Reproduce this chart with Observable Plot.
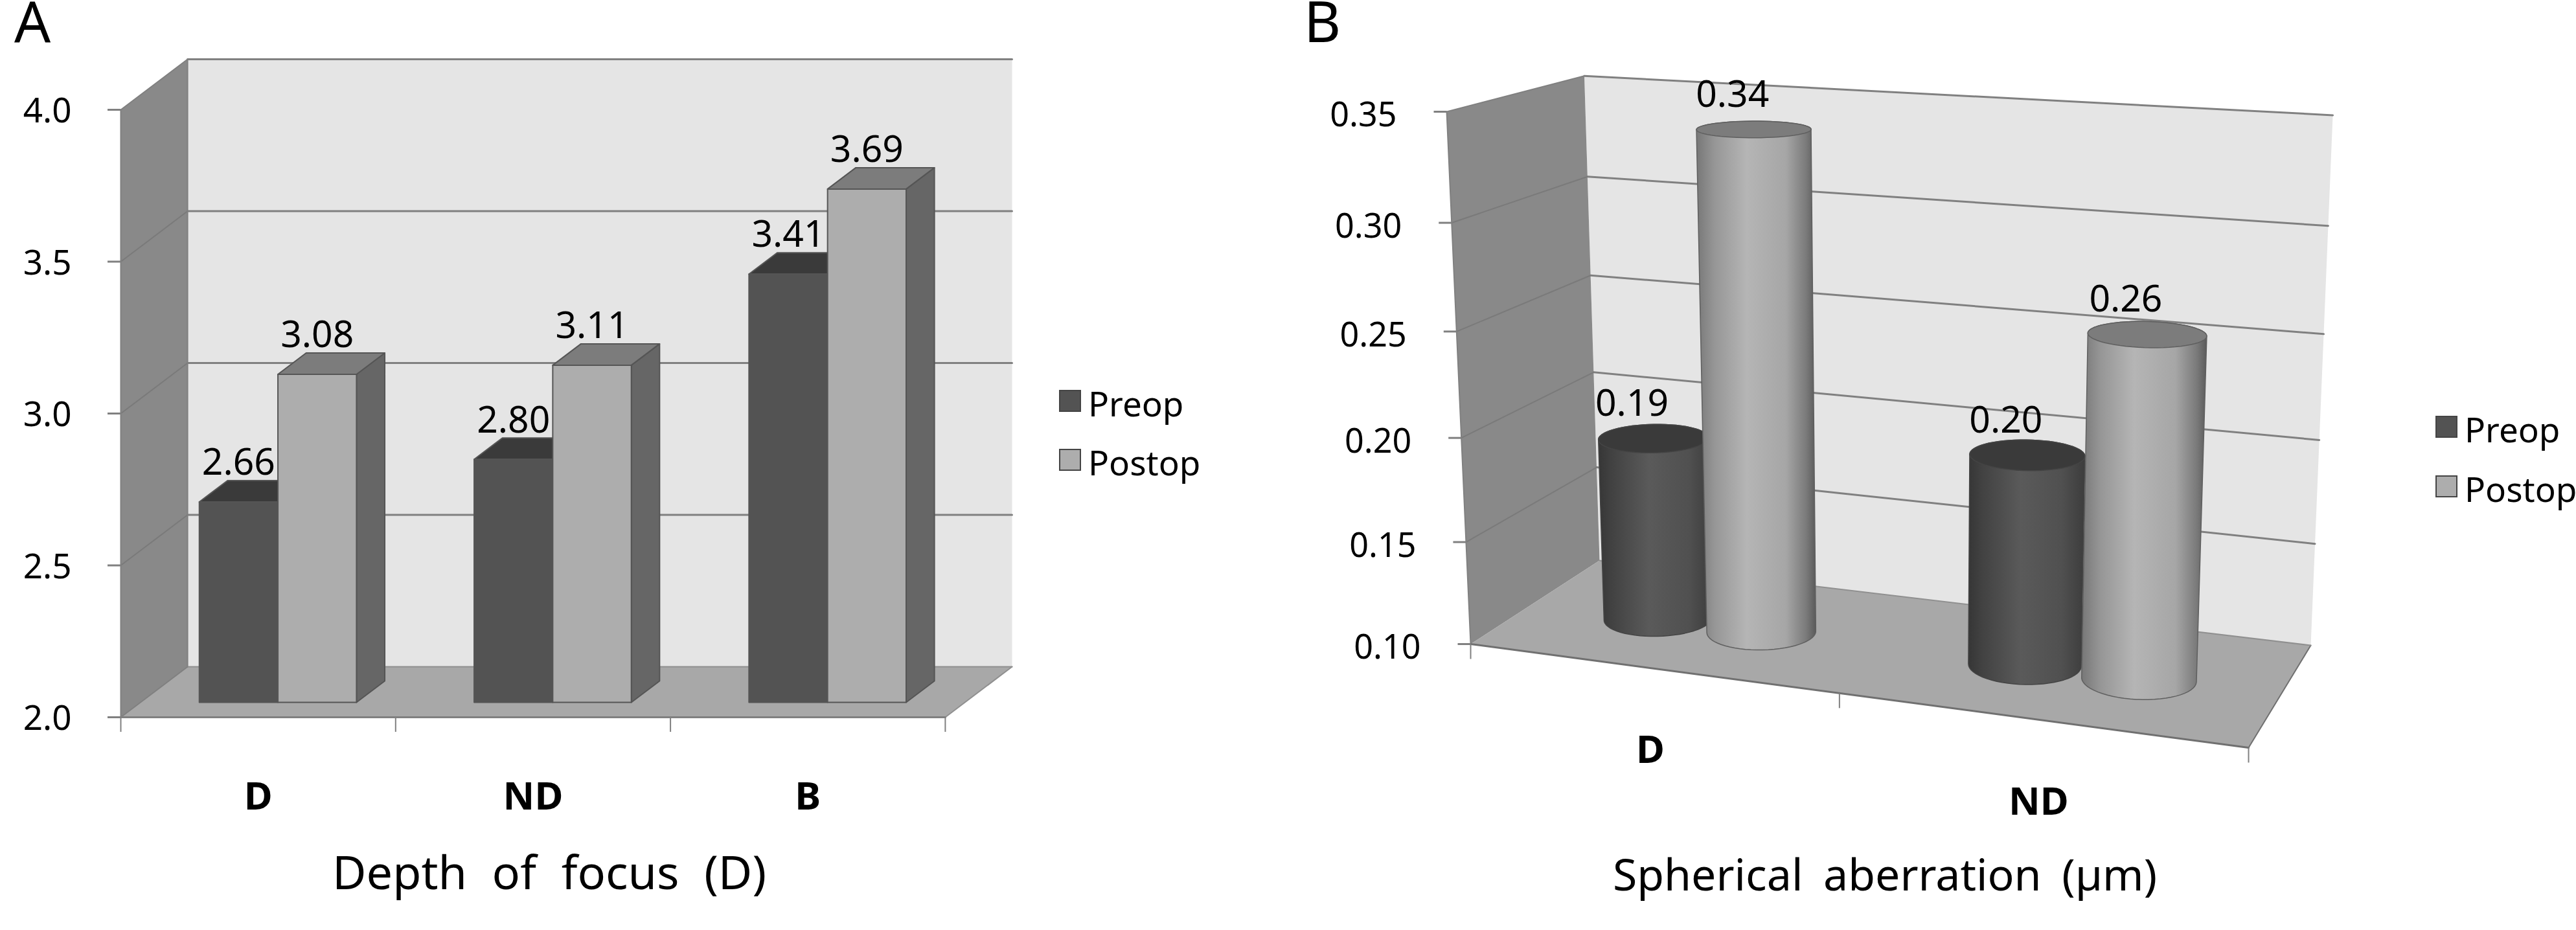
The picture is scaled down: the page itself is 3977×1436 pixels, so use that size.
<!DOCTYPE html>
<html>
<head>
<meta charset="utf-8">
<script src="https://cdn.jsdelivr.net/npm/d3@7"></script>
<script src="https://cdn.jsdelivr.net/npm/@observablehq/plot@0.6"></script>
<style>
  html,body{margin:0;padding:0;background:#fff;}
  #page{position:relative;width:3977px;height:1436px;overflow:hidden;font-family:"Noto Sans",sans-serif;color:#000;}
  #page svg{position:absolute;top:0;overflow:visible;background:transparent;}
  .t{position:absolute;line-height:1;white-space:pre;}
  .titleA{font-size:72px;word-spacing:20px;}
  .titleB{font-size:68px;word-spacing:14px;}
  .letter{font-size:88px;line-height:0.66;}
  .lg{font-size:53px;}
  .sw{position:absolute;width:34px;height:34px;box-sizing:border-box;border:2px solid #444;}
</style>
</head>
<body>
<div id="page"></div>
<script>
// ---------- data ----------
const seriesNames = ["Preop", "Postop"];
const categoriesA = ["D", "ND", "B"];
const preopA = [2.66, 2.80, 3.41];
const postopA = [3.08, 3.11, 3.69];
const ticksA = [2.0, 2.5, 3.0, 3.5, 4.0];
const categoriesB = ["D", "ND"];
const preopB = [0.19, 0.20];
const postopB = [0.34, 0.26];
const ticksB = [0.10, 0.15, 0.20, 0.25, 0.30, 0.35];
const titleA = "Depth of focus (D)";
const titleB = "Spherical aberration (µm)";

// ---------- palette ----------
const C = {wall:"#898989", back:"#e5e5e5", floor:"#a8a8a8", grid:"#808080",
  darkFront:"#535353", darkTop:"#3a3a3a", lightFront:"#adadad", lightTop:"#7c7c7c",
  lightSide:"#666666", edge:"#555555"};
const font = '"Noto Sans", sans-serif';
const page = document.getElementById("page");

function poly(pts, fill, stroke, strokeWidth) {
  return Plot.line([...pts, pts[0]], {x: d => d[0], y: d => d[1], fill, stroke: stroke || "none", strokeWidth: strokeWidth || 0});
}
function seg(a, b, stroke, strokeWidth) {
  return Plot.line([a, b], {x: d => d[0], y: d => d[1], stroke, strokeWidth});
}

// ---------- panel A: oblique 3D column chart ----------
const depthX = 0.243, depthY = 0.1663;
const obl = (u, z, v) => [u + depthX * z, v + depthY * z];
const nA = categoriesA.length, v0 = ticksA[0], v1 = ticksA[ticksA.length - 1];
const zF = 0.295, zB = 0.718, b0 = 0.214, bM = 0.5, b1 = 0.786;

function bar(c, u0, u1, v, front, top, side) {
  const m = [
    poly([obl(c+u0,zF,v), obl(c+u0,zB,v), obl(c+u1,zB,v), obl(c+u1,zF,v)], top, C.edge, 2),
    poly([obl(c+u0,zF,v0), obl(c+u0,zF,v), obl(c+u1,zF,v), obl(c+u1,zF,v0)], front, C.edge, 2)
  ];
  if (side) m.unshift(poly([obl(c+u1,zF,v0), obl(c+u1,zB,v0), obl(c+u1,zB,v), obl(c+u1,zF,v)], side, C.edge, 2));
  return m;
}
const labelsA = [];
categoriesA.forEach((_, i) => {
  labelsA.push({p: obl(i + (b0+bM)/2, zF, preopA[i]), t: preopA[i].toFixed(2)});
  labelsA.push({p: obl(i + (bM+b1)/2, zF, postopA[i]), t: postopA[i].toFixed(2)});
});

const plotA = Plot.plot({
  width: 1980, height: 1436,
  marginLeft: 186, marginTop: 91, marginBottom: 329, marginRight: 418,
  style: {fontFamily: font, background: "transparent", left: "0px"},
  x: {domain: [0, nA + depthX], axis: null},
  y: {domain: [v0, v1 + depthY], axis: null},
  marks: [
    poly([obl(0,1,v0), obl(0,1,v1), obl(nA,1,v1), obl(nA,1,v0)], C.back),
    poly([obl(0,0,v0), obl(0,1,v0), obl(0,1,v1), obl(0,0,v1)], C.wall),
    poly([obl(0,0,v0), obl(0,1,v0), obl(nA,1,v0), obl(nA,0,v0)], C.floor),
    ticksA.slice(1).map(v => seg(obl(0,1,v), obl(nA,1,v), C.grid, 3)),
    ticksA.slice(1, -1).map(v => seg(obl(0,0,v), obl(0,1,v), "#7a7a7a", 2)),
    seg(obl(0,0,v1), obl(0,1,v1), "#808080", 2),
    seg(obl(0,0,v0), obl(0,0,v1), "#808080", 2),
    seg(obl(0,1,v0), obl(0,1,v1), "#808080", 2),
    seg(obl(0,1,v0), obl(nA,1,v0), "#909090", 2),
    seg(obl(0,0,v0), obl(0,1,v0), "#808080", 2),
    seg(obl(nA,0,v0), obl(nA,1,v0), "#909090", 2),
    seg(obl(0,0,v0), obl(nA,0,v0), "#808080", 3),
    Plot.axisY({ticks: ticksA, tickFormat: () => "", tickSize: 20, stroke: "#808080", strokeWidth: 3, label: null}),
    Plot.axisY({ticks: ticksA, tickFormat: ".1f", tickSize: 0, tickPadding: 76, dy: 3, fontSize: 53, fill: "#000", label: null}),
    Plot.axisX({ticks: d3.range(nA + 1), tickSize: 23, tickFormat: () => "", stroke: "#808080", strokeWidth: 2, label: null}),
    Plot.axisX({ticks: categoriesA.map((_, i) => i + 0.5), tickSize: 0, tickPadding: 100, tickFormat: t => categoriesA[Math.floor(t)], fontSize: 60, fontWeight: "bold", fill: "#000", label: null}),
    categoriesA.map((_, i) => [
      bar(i, b0, bM, preopA[i], C.darkFront, C.darkTop, null),
      bar(i, bM, b1, postopA[i], C.lightFront, C.lightTop, C.lightSide)
    ]),
    Plot.text(labelsA, {x: d => d.p[0], y: d => d.p[1], text: "t", fontSize: 57, dy: -60, fill: "#000"})
  ]
});
plotA.style.left = "0px";
page.appendChild(plotA);

// ---------- panel B: perspective 3D cylinder chart ----------
const offsetB = 1980;
// screen corners of the chart box, used to derive the perspective
const O = [2270, 994], U = [3471, 1154], Z = [2469, 865], H = [2233, 172];
const wu = -0.0986, wz = 0.1024, wh = -0.052;
const coef = k => [U[k]*(1+wu)-O[k], Z[k]*(1+wz)-O[k], H[k]*(1+wh)-O[k]];
const cx = coef(0), cy = coef(1);
function persp(u, z, h) {
  const w = 1 + wu*u + wz*z + wh*h;
  return [(O[0] + cx[0]*u + cx[1]*z + cx[2]*h)/w - offsetB, (O[1] + cy[0]*u + cy[1]*z + cy[2]*h)/w];
}
const tb0 = ticksB[0], tb1 = ticksB[ticksB.length-1];
const hOf = v => (v - tb0)/(tb1 - tb0);
const zC = 0.47, ru = 0.07, rz = 0.19, offPre = 0.07, offPost = 0.076;
const angles = d3.range(0, 360, 6).map(a => a*Math.PI/180);
function circle(uc, h) { return angles.map(a => persp(uc + ru*Math.cos(a), zC + rz*Math.sin(a), h)); }

function cylinder(uc, v, grad, top, edge) {
  const h = hOf(v);
  const hull = d3.polygonHull([...circle(uc,0), ...circle(uc,h)]);
  return [poly(hull, `url(#${grad})`, edge, 1.5), poly(circle(uc,h), top, edge, 1.5)];
}
function gradientDefs() {
  const defs = d3.create("svg:defs");
  const mk = (id, stops) => {
    const g = defs.append("linearGradient").attr("id", id).attr("x1", 0).attr("x2", 1).attr("y1", 0).attr("y2", 0);
    stops.forEach(([o, c]) => g.append("stop").attr("offset", o).attr("stop-color", c));
  };
  mk("gDark", [[0,"#363636"],[0.12,"#424242"],[0.45,"#5a5a5a"],[0.8,"#505050"],[1,"#3c3c3c"]]);
  mk("gLight", [[0,"#777777"],[0.15,"#969696"],[0.42,"#b5b5b5"],[0.75,"#a6a6a6"],[0.92,"#7a7a7a"],[1,"#5a5a5a"]]);
  return defs.node();
}
const nB = categoriesB.length, us = i => (i + 0.5)/nB;
const cyls = [], labelsB = [];
categoriesB.forEach((_, i) => {
  const a = us(i) - offPre, b = us(i) + offPost;
  cyls.push(cylinder(a, preopB[i], "gDark", C.darkTop, "#444444"));
  cyls.push(cylinder(b, postopB[i], "gLight", C.lightTop, "#5f5f5f"));
  labelsB.push({p: persp(a, zC, hOf(preopB[i])), t: preopB[i].toFixed(2)});
  labelsB.push({p: persp(b, zC, hOf(postopB[i])), t: postopB[i].toFixed(2)});
});
const tickRowsB = ticksB.map(v => ({v, p: persp(0,0,hOf(v))}));
const xTicksB = d3.range(nB + 1).map(i => persp(i/nB, 0, 0));
const catRowsB = categoriesB.map((c, i) => ({c, p: persp(us(i), 0, 0)}));

const plotB = Plot.plot({
  width: 1997, height: 1436, margin: 0,
  style: {fontFamily: font, background: "transparent"},
  x: {type: "identity", axis: null},
  y: {type: "identity", axis: null},
  marks: [
    gradientDefs,
    poly([persp(0,1,0), persp(0,1,1), persp(1,1,1), persp(1,1,0)], C.back),
    poly([persp(0,0,0), persp(0,1,0), persp(0,1,1), persp(0,0,1)], C.wall),
    poly([persp(0,0,0), persp(0,1,0), persp(1,1,0), persp(1,0,0)], C.floor),
    ticksB.slice(1).map(v => seg(persp(0,1,hOf(v)), persp(1,1,hOf(v)), C.grid, 3)),
    ticksB.slice(1,-1).map(v => seg(persp(0,0,hOf(v)), persp(0,1,hOf(v)), "#7a7a7a", 2)),
    seg(persp(0,0,1), persp(0,1,1), "#808080", 2),
    seg(persp(0,0,0), persp(0,0,1), "#808080", 2),
    seg(persp(0,0,0), persp(1,0,0), "#707070", 3),
    seg(persp(1,0,0), persp(1,1,0), "#707070", 2),
    seg(persp(0,1,0), persp(1,1,0), "#909090", 2),
    Plot.link(tickRowsB, {x1: d => d.p[0] - 20, x2: d => d.p[0], y1: d => d.p[1], y2: d => d.p[1], stroke: "#808080", strokeWidth: 3}),
    Plot.link(xTicksB, {x1: d => d[0], x2: d => d[0], y1: d => d[1], y2: d => d[1] + 23, stroke: "#808080", strokeWidth: 2}),
    Plot.text(tickRowsB, {x: d => d.p[0], y: d => d.p[1], text: d => d.v.toFixed(2), dx: -77, dy: 6, textAnchor: "end", fontSize: 52, fill: "#000"}),
    Plot.text(catRowsB, {x: d => d.p[0], y: d => d.p[1], text: "c", dy: 127, fontSize: 60, fontWeight: "bold", fill: "#000"}),
    cyls,
    Plot.text(labelsB, {x: d => d.p[0], y: d => d.p[1], text: "t", dx: -33, dy: -53, fontSize: 57, fill: "#000"})
  ]
});
plotB.style.left = offsetB + "px";
page.appendChild(plotB);

// ---------- html text and legends ----------
function textAt(str, cls, left, baseline, fs, anchorMiddle) {
  const d = document.createElement("div");
  d.className = "t " + cls;
  d.textContent = str;
  d.style.left = left + "px";
  d.style.top = (baseline - 0.888*fs) + "px";
  if (anchorMiddle) d.style.transform = "translateX(-50%)";
  page.appendChild(d);
}
function letterAt(str, left) {
  const d = document.createElement("div");
  d.className = "t letter";
  d.textContent = str;
  d.style.left = left + "px";
  d.style.top = "2px";
  page.appendChild(d);
}
letterAt("A", 22);
letterAt("B", 2013);
textAt(titleA, "titleA", 848, 1373, 72, true);
textAt(titleB, "titleB", 2910, 1375, 68, true);

function legend(swLeft, textLeft, baselines) {
  seriesNames.forEach((name, i) => {
    const s = document.createElement("div");
    s.className = "sw";
    s.style.left = swLeft + "px";
    s.style.top = (baselines[i] - 41) + "px";
    s.style.background = i === 0 ? C.darkFront : C.lightFront;
    page.appendChild(s);
    textAt(name, "lg", textLeft, baselines[i], 53);
  });
}
legend(1635, 1680, [643, 734]);
legend(3760, 3805, [683, 775]);
</script>
</body>
</html>
